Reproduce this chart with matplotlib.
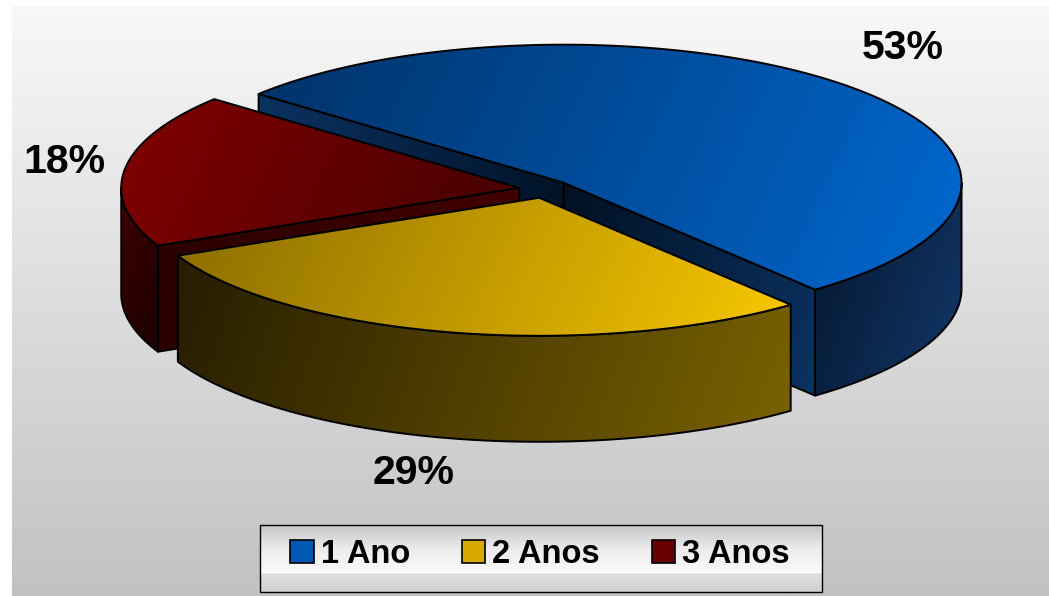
import numpy as np
import matplotlib
matplotlib.use('Agg')
import matplotlib.pyplot as plt
from matplotlib.patches import Polygon, Rectangle, Patch
from matplotlib.colors import to_rgb

# ── data ─────────────────────────────────────────────────────────────────────
labels = ['1 Ano', '2 Anos', '3 Anos']
values = [53, 29, 18]
pct_labels = ['53%', '29%', '18%']

# ── layout (pixel space, y grows downward) ───────────────────────────────────
W, H = 1049, 596
CX, CY = 545, 189          # pie centre before explosion
RX, RY = 398, 138          # ellipse radii of the top face
DEPTH = 106                # thickness of the pie
EXPLODE = 26               # explosion distance along mid angle
START = 140                # degrees; slices run clockwise from here
LABEL_POS = [(903, 48), (414, 473), (64, 162)]

FONT = ['Liberation Sans', 'DejaVu Sans']

# colours per slice: top (from, to), wall (from, to), radial face (from, to)
STYLE = {
    '1 Ano':  dict(top=('#003268', '#0068d0'), wall=('#04152c', '#12386a'),
                   face=('#001122', '#0b3262'), key='#0057b4'),
    '2 Anos': dict(top=('#8a6c00', '#f8c800'), wall=('#261d00', '#7a6200'),
                   face=('#3a2e00', '#5a4800'), key='#d6aa00'),
    '3 Anos': dict(top=('#820000', '#440000'), wall=('#3e0000', '#1c0000'),
                   face=('#420000', '#2a0000'), key='#680000'),
}

fig = plt.figure(figsize=(W / 100, H / 100), dpi=100, facecolor='white')
ax = fig.add_axes([0, 0, 1, 1])
ax.set_xlim(0, W)
ax.set_ylim(H, 0)
ax.axis('off')


def grad_fill(verts, c0, c1, direction, z, edge=True, lw=1.4):
    verts = np.asarray(verts, dtype=float)
    poly = Polygon(verts, closed=True, facecolor='none',
                   edgecolor='black' if edge else 'none', lw=lw,
                   joinstyle='round', zorder=z + 0.5)
    ax.add_patch(poly)
    x0, y0 = verts.min(0)
    x1, y1 = verts.max(0)
    X, Y = np.meshgrid(np.linspace(x0, x1, 120), np.linspace(y0, y1, 120))
    d = np.asarray(direction, float)
    d = d / np.hypot(*d)
    p = X * d[0] + Y * d[1]
    t = (p - p.min()) / (p.max() - p.min() + 1e-9)
    a, b = np.array(to_rgb(c0)), np.array(to_rgb(c1))
    img = a + t[..., None] * (b - a)
    im = ax.imshow(img, extent=(x0, x1, y1, y0), origin='upper',
                   aspect='auto', interpolation='bilinear', zorder=z)
    im.set_clip_path(poly)


# ── background ───────────────────────────────────────────────────────────────
bg = np.linspace(248, 194, 200)[:, None, None] / 255 * np.ones((1, 2, 3))
ax.imshow(bg, extent=(12, W, H, 6), origin='upper', aspect='auto',
          interpolation='bilinear', zorder=0)

# ── slices ───────────────────────────────────────────────────────────────────
total = float(sum(values))
slices = []
ang = START
for lab, v in zip(labels, values):
    span = v / total * 360
    t1, t2 = ang - span, ang
    ang = t1
    t1n = t1 % 360
    slices.append((lab, t1n, t1n + span))

# back slices first
order = sorted(slices, key=lambda s: -np.sin(np.radians((s[1] + s[2]) / 2)))

z = 2
for lab, t1, t2 in order:
    st = STYLE[lab]
    mid = np.radians((t1 + t2) / 2)
    vx = CX + EXPLODE * np.cos(mid)
    vy = CY - EXPLODE * RY / RX * np.sin(mid)

    def rim(t, dy=0.0):
        t = np.radians(t)
        return np.column_stack([vx + RX * np.cos(t), vy - RY * np.sin(t) + dy])

    # radial faces
    for ta, vis in ((t1, np.cos(np.radians(t1)) > 0),
                    (t2, np.cos(np.radians(t2)) < 0)):
        if not vis:
            continue
        p = rim([ta])[0]
        quad = [(vx, vy), p, (p[0], p[1] + DEPTH), (vx, vy + DEPTH)]
        grad_fill(quad, st['face'][0], st['face'][1], (p[0] - vx, p[1] - vy), z)
        z += 1

    # outer wall, front part only
    for lo, hi in ((180, 360), (540, 720)):
        a, b = max(t1, lo), min(t2, hi)
        if b <= a:
            continue
        ts = np.linspace(a, b, 200)
        verts = np.vstack([rim(ts), rim(ts[::-1], DEPTH)])
        grad_fill(verts, st['wall'][0], st['wall'][1], (1, 0.35), z)
        z += 1

    # top face
    ts = np.linspace(t1, t2, 300)
    verts = np.vstack([[(vx, vy)], rim(ts)])
    grad_fill(verts, st['top'][0], st['top'][1], (1, 0.45), z)
    z += 1

# ── percentage labels ────────────────────────────────────────────────────────
for txt, (x, y) in zip(pct_labels, LABEL_POS):
    ax.text(x, y, txt, ha='center', va='center', fontsize=29.5,
            fontweight='bold', family=FONT, color='black', zorder=50)

# ── legend ───────────────────────────────────────────────────────────────────
LX0, LX1, LY0, LY1 = 260, 822, 525, 592
prof_y = [0, 0.35, 0.72, 0.735, 0.75, 1.0]
prof_v = [196, 236, 250, 212, 222, 208]
yy = np.linspace(0, 1, 200)
lg = np.interp(yy, prof_y, prof_v)[:, None, None] / 255 * np.ones((1, 2, 3))
ax.imshow(lg, extent=(LX0, LX1, LY1, LY0), origin='upper', aspect='auto',
          interpolation='bilinear', zorder=40)
ax.add_patch(Rectangle((LX0, LY0), LX1 - LX0, LY1 - LY0, facecolor='none',
                       edgecolor='black', lw=1.0, zorder=41))

handles = [Patch(facecolor=STYLE[l]['key'], edgecolor='black', lw=1.2, label=l)
           for l in labels]
leg = ax.legend(handles=handles, ncol=3, loc='center',
                bbox_to_anchor=((LX0 + LX1 - 2) / 2 / W, 1 - (LY0 + LY1 - 8) / 2 / H),
                frameon=False, prop=dict(family=FONT, weight='bold', size=23.5),
                handlelength=0.72, handleheight=0.72, handletextpad=0.2,
                columnspacing=1.6, borderaxespad=0, borderpad=0)
leg.set_zorder(45)

ax.set_xlim(0, W)
ax.set_ylim(H, 0)
fig.savefig('out.png', dpi=100, facecolor='white')
